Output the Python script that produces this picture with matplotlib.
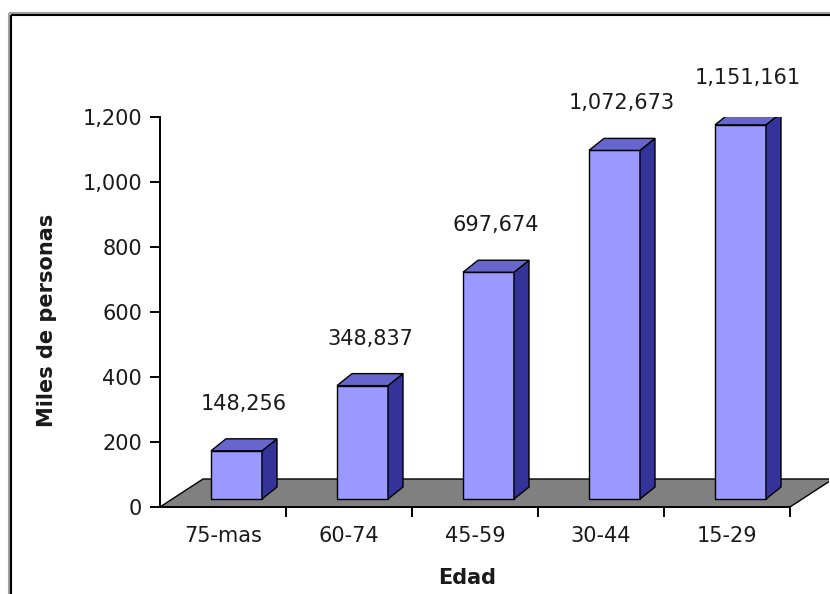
import matplotlib
matplotlib.use("Agg")
import matplotlib.pyplot as plt
from matplotlib.patches import Polygon
from matplotlib.lines import Line2D
from matplotlib.ticker import FuncFormatter

# Population by age group (persons)
categories = ["75-mas", "60-74", "45-59", "30-44", "15-29"]
values = [148256, 348837, 697674, 1072673, 1151161]
y_ticks = [0, 200, 400, 600, 800, 1000, 1200]
y_label = "Miles de personas"
x_label = "Edad"

plt.rcParams["font.family"] = ["DejaVu Sans"]

W, H = 830, 594
fig = plt.figure(figsize=(W / 100, H / 100), dpi=100)
fig.patch.set_facecolor("white")

# axes: front-left corner of the floor is (-0.5, 0)
px_per_cat = 126.0
ax_left, ax_right, ax_bottom, ax_top = 160, 829, 507, 117
ax = fig.add_axes([ax_left / W, (H - ax_bottom) / H,
                   (ax_right - ax_left) / W, (ax_bottom - ax_top) / H])
ax.set_xlim(-0.5, -0.5 + (ax_right - ax_left) / px_per_cat)
ax.set_ylim(0, 1200)
ax.set_facecolor("none")

units_per_px = 1200 / (ax_bottom - ax_top)

# 3D geometry (in data units)
floor_dx = 43 / px_per_cat
floor_dy = 28 * units_per_px
bar_shift_x = 13.5 / px_per_cat
bar_shift_y = 8 * units_per_px
bar_width = 51 / px_per_cat
side_dx = 15 / px_per_cat
side_dy = 12 * units_per_px

front_col = "#9999FF"
side_col = "#333399"
top_col = "#6666CC"
floor_col = "#808080"
text_col = "#1a1a1a"
fs = 15

n = len(categories)
x0, x1 = -0.5, n - 0.5

# floor
ax.add_patch(Polygon([(x0, 0), (x1, 0), (x1 + floor_dx, floor_dy),
                      (x0 + floor_dx, floor_dy)], closed=True,
                     facecolor=floor_col, edgecolor="black", lw=1.0, zorder=1))

heights = [v / 1000 for v in values]
xs = [i + bar_shift_x for i in range(n)]
bars = ax.bar(xs, heights, width=bar_width, bottom=bar_shift_y,
              color=front_col, edgecolor="black", linewidth=1.0, zorder=3)

for b, v in zip(bars, values):
    l = b.get_x()
    r = l + b.get_width()
    bot = b.get_y()
    top = bot + b.get_height()
    ax.add_patch(Polygon([(r, bot), (r + side_dx, bot + side_dy),
                          (r + side_dx, top + side_dy), (r, top)], closed=True,
                         facecolor=side_col, edgecolor="black", lw=1.0, zorder=3))
    ax.add_patch(Polygon([(l, top), (r, top), (r + side_dx, top + side_dy),
                          (l + side_dx, top + side_dy)], closed=True,
                         facecolor=top_col, edgecolor="black", lw=1.0, zorder=3))
    ax.annotate(f"{v:,}", xy=((l + r + side_dx) / 2, top + side_dy),
                xytext=(0, 35), textcoords="offset pixels",
                ha="center", va="center", fontsize=fs, color=text_col,
                annotation_clip=False, zorder=4)

# axis lines
for s in ["top", "right", "bottom"]:
    ax.spines[s].set_visible(False)
ax.spines["left"].set_linewidth(1.4)
ax.plot([x0, x1], [0, 0], color="black", lw=1.4, clip_on=False, zorder=2)

ax.set_yticks(y_ticks)
ax.yaxis.set_major_formatter(FuncFormatter(lambda v, p: f"{int(v):,}"))
ax.tick_params(axis="y", direction="out", length=7, width=1.4, pad=6,
               labelsize=fs, labelcolor=text_col)

ax.set_xticks([i + 0.5 for i in range(n)])
ax.set_xticklabels([])
ax.set_xticks(list(range(n)), minor=True)
ax.set_xticklabels(categories, minor=True)
ax.tick_params(axis="x", which="major", direction="out", length=7, width=1.4)
ax.tick_params(axis="x", which="minor", length=0, pad=14,
               labelsize=fs, labelcolor=text_col)

fig.text(47 / W, 1 - 320 / H, y_label, rotation=90, ha="center", va="center",
         fontsize=15, fontweight="bold", color=text_col)
fig.text(467 / W, 1 - 578 / H, x_label, ha="center", va="center",
         fontsize=15, fontweight="bold", color=text_col)

# chart frame
def frame_line(xa, ya, xb, yb, color):
    fig.add_artist(Line2D([xa / W, xb / W], [1 - ya / H, 1 - yb / H],
                          color=color, lw=1.5, solid_capstyle="butt"))

frame_line(9, 13, W, 13, "#a0a0a0")
frame_line(9, 13, 9, H, "#a0a0a0")
frame_line(11, 15, W, 15, "black")
frame_line(11, 15, 11, H, "black")

fig.savefig("out.png", dpi=100, facecolor="white")
